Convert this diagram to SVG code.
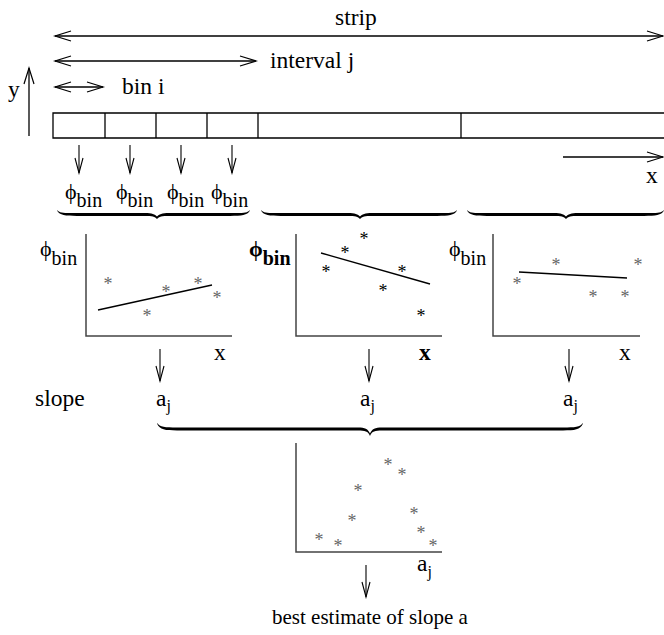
<svg xmlns="http://www.w3.org/2000/svg" width="664" height="635" viewBox="0 0 664 635" font-family="'Liberation Serif', 'DejaVu Serif', serif">
<defs>
<marker id="ah" markerUnits="userSpaceOnUse" markerWidth="20" markerHeight="12" viewBox="0 -6 18 12" refX="16" refY="0" orient="auto-start-reverse">
<path d="M0,-5 L16,0 L0,5" fill="none" stroke="#000" stroke-width="1.2"/>
</marker>
<marker id="dh" markerUnits="userSpaceOnUse" markerWidth="18" markerHeight="10" viewBox="0 -5 16 10" refX="15" refY="0" orient="auto">
<path d="M0,-4 L15,0 L0,4" fill="none" stroke="#000" stroke-width="1.1"/>
</marker>
</defs>
<style>
text{font-family:"Liberation Serif","DejaVu Serif",serif;fill:#000}
.lb{font-size:23.5px}
.ph{font-size:22px}
.sub{font-size:20px}
.js{font-size:16px}
.st{font-size:18px;fill:#666;text-anchor:middle}
.stb{font-size:18px;fill:#000;text-anchor:middle}
.ln{stroke:#000;stroke-width:1.3;fill:none}
.ax{stroke:#444;stroke-width:1.5;fill:none}
.arr{stroke:#000;stroke-width:1.3;fill:none;marker-end:url(#ah)}
.darr{stroke:#000;stroke-width:1.1;fill:none;marker-end:url(#dh)}
.br{fill:#000}
.bold{font-weight:bold}
</style>

<g id="connectors">
<line class="arr" x1="55" y1="36" x2="663" y2="36" style="marker-start:url(#ah)"/>
<line class="arr" x1="55" y1="61" x2="256" y2="61" style="marker-start:url(#ah)"/>
<line class="arr" x1="55" y1="87" x2="103" y2="87" style="marker-start:url(#ah)"/>
<line class="arr" x1="29" y1="136" x2="29" y2="68"/>
<line class="arr" x1="563" y1="157" x2="663" y2="157"/>
<line class="darr" x1="79" y1="145" x2="79" y2="173"/>
<line class="darr" x1="130" y1="145" x2="130" y2="173"/>
<line class="darr" x1="181" y1="145" x2="181" y2="173"/>
<line class="darr" x1="232" y1="145" x2="232" y2="173"/>
<line class="darr" x1="160" y1="349" x2="160" y2="381"/>
<line class="darr" x1="369" y1="349" x2="369" y2="381"/>
<line class="darr" x1="569" y1="349" x2="569" y2="381"/>
<line class="darr" x1="366" y1="565" x2="366" y2="597"/>
</g>

<g id="labels">
<text class="lb" x="335" y="25">strip</text>
<text class="lb" x="270" y="68">interval j</text>
<text class="lb" x="122" y="94">bin i</text>
<text class="lb" x="8" y="97">y</text>
<text class="lb" x="646" y="183">x</text>
</g>

<g id="strip">
<path class="ln" d="M664,113 H53 V138 H664" stroke-width="1.5"/>
<line class="ln" x1="105" y1="113" x2="105" y2="138"/>
<line class="ln" x1="156" y1="113" x2="156" y2="138"/>
<line class="ln" x1="207" y1="113" x2="207" y2="138"/>
<line class="ln" x1="258" y1="113" x2="258" y2="138"/>
<line class="ln" x1="461" y1="113" x2="461" y2="138"/>
</g>

<g id="phi-bins">
<text class="ph" x="65" y="199">ϕ<tspan class="sub" dy="8">bin</tspan></text>
<text class="ph" x="116" y="199">ϕ<tspan class="sub" dy="8">bin</tspan></text>
<text class="ph" x="167" y="199">ϕ<tspan class="sub" dy="8">bin</tspan></text>
<text class="ph" x="211" y="199">ϕ<tspan class="sub" dy="8">bin</tspan></text>
</g>

<g id="braces">
<path class="br" d="M57,210 C60,213.5 65,213 77,213 L145,213 C152,213 155,214.5 157,216.5 C159,214.5 162,213 169,213 L230,213 C242,213 247,213.5 250,210 L250,210.6 C247,215.5 242,216 230,216 L169,216 C162,216 159,216.5 157,219 C155,216.5 152,216 145,216 L77,216 C65,216 60,215.5 57,210.6 Z"/>
<path class="br" d="M261,210 C264,213.5 269,213 281,213 L348,213 C355,213 358,214.5 360,216.5 C362,214.5 365,213 372,213 L437,213 C449,213 454,213.5 457,210 L457,210.6 C454,215.5 449,216 437,216 L372,216 C365,216 362,216.5 360,219 C358,216.5 355,216 348,216 L281,216 C269,216 264,215.5 261,210.6 Z"/>
<path class="br" d="M467,210 C470,213.5 475,213 487,213 L554,213 C561,213 564,214.5 566,216.5 C568,214.5 571,213 578,213 L644,213 C656,213 661,213.5 664,210 L664,210.6 C661,215.5 656,216 644,216 L578,216 C571,216 568,216.5 566,219 C564,216.5 561,216 554,216 L487,216 C475,216 470,215.5 467,210.6 Z"/>
<path class="br" d="M157,423 C160,427 165,427.5 177,427.5 L358,427.5 C365,427.5 368,429 370,433.5 C372,429 375,427.5 382,427.5 L563,427.5 C575,427.5 580,427 583,423 L583,423.6 C580,430 575,430.5 563,430.5 L382,430.5 C375,430.5 372,431 370,436 C368,431 365,430.5 358,430.5 L177,430.5 C165,430.5 160,430 157,423.6 Z"/>
</g>

<g id="plot1">
<path class="ax" d="M86,234 V336 H232"/>
<line class="ln" x1="98" y1="310" x2="212" y2="285"/>
<text class="ph" x="40" y="256">ϕ<tspan class="sub" dy="9">bin</tspan></text>
<text class="lb" x="214" y="360">x</text>
<text class="st" x="108" y="290">*</text>
<text class="st" x="166" y="298">*</text>
<text class="st" x="198" y="290">*</text>
<text class="st" x="217" y="304">*</text>
<text class="st" x="147" y="322">*</text>
</g>

<g id="plot2">
<path class="ax" d="M296,234 V336 H442" stroke="#000" stroke-width="2"/>
<line class="ln" x1="321" y1="253" x2="430" y2="284"/>
<text class="ph bold" x="249" y="256">ϕ<tspan class="sub" dy="9">bin</tspan></text>
<text class="lb bold" x="419" y="360">x</text>
<text class="stb" x="364" y="245">*</text>
<text class="stb" x="345" y="259">*</text>
<text class="stb" x="326" y="278">*</text>
<text class="stb" x="402" y="278">*</text>
<text class="stb" x="383" y="297">*</text>
<text class="stb" x="421" y="322">*</text>
</g>

<g id="plot3">
<path class="ax" d="M493,234 V336 H640"/>
<line class="ln" x1="519" y1="272" x2="627" y2="278"/>
<text class="ph" x="449" y="256">ϕ<tspan class="sub" dy="9">bin</tspan></text>
<text class="lb" x="619" y="360">x</text>
<text class="st" x="517" y="290">*</text>
<text class="st" x="556" y="271">*</text>
<text class="st" x="638" y="271">*</text>
<text class="st" x="593" y="303">*</text>
<text class="st" x="625" y="303">*</text>
</g>

<g id="slopes">
<text class="lb" x="35" y="406">slope</text>
<text class="lb" x="156" y="406">a<tspan class="js" dy="5">j</tspan></text>
<text class="lb" x="360" y="406">a<tspan class="js" dy="5">j</tspan></text>
<text class="lb" x="563" y="406">a<tspan class="js" dy="5">j</tspan></text>
</g>

<g id="plot4">
<path class="ax" d="M296,443 V552 H442"/>
<text class="lb" x="417" y="571">a<tspan class="js" dy="6">j</tspan></text>
<text class="st" x="319" y="546">*</text>
<text class="st" x="338" y="552">*</text>
<text class="st" x="352" y="527">*</text>
<text class="st" x="358" y="497">*</text>
<text class="st" x="388" y="471">*</text>
<text class="st" x="402" y="481">*</text>
<text class="st" x="414" y="520">*</text>
<text class="st" x="421" y="539">*</text>
<text class="st" x="433" y="552">*</text>
</g>

<g id="result">
<text x="272" y="624" style="font-size:21px">best estimate of slope a</text>
</g>
</svg>
